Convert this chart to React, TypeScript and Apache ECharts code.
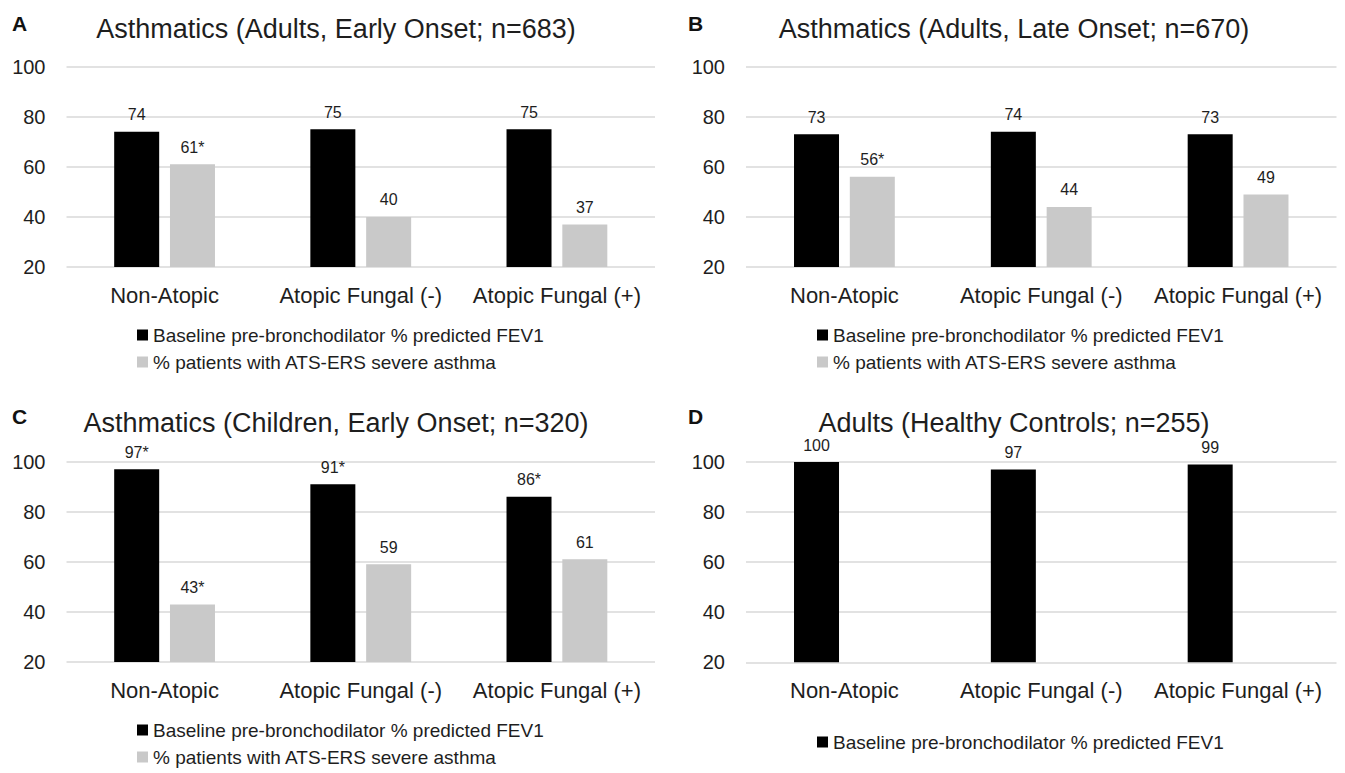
import React, { useEffect, useRef } from "react";
import * as echarts from "echarts";

const categories = ["Non-Atopic", "Atopic Fungal (-)", "Atopic Fungal (+)"];
const yTicks = { min: 20, max: 100, interval: 20 };

const FEV_NAME = "Baseline pre-bronchodilator % predicted FEV1";
const SEV_NAME = "% patients with ATS-ERS severe asthma";

// Panel A: Adults, early onset
const fevAdultEarly = [74, 75, 75];
const sevAdultEarly = [61, 40, 37];
const fevAdultEarlySig = [false, false, false];
const sevAdultEarlySig = [true, false, false];

// Panel B: Adults, late onset
const fevAdultLate = [73, 74, 73];
const sevAdultLate = [56, 44, 49];
const fevAdultLateSig = [false, false, false];
const sevAdultLateSig = [true, false, false];

// Panel C: Children, early onset
const fevChildEarly = [97, 91, 86];
const sevChildEarly = [43, 59, 61];
const fevChildEarlySig = [true, true, true];
const sevChildEarlySig = [true, false, false];

// Panel D: Healthy controls
const fevHealthy = [100, 97, 99];
const fevHealthySig = [false, false, false];

const panelTitles = [
  "Asthmatics (Adults, Early Onset; n=683)",
  "Asthmatics (Adults, Late Onset; n=670)",
  "Asthmatics (Children, Early Onset; n=320)",
  "Adults (Healthy Controls; n=255)",
];
const panelLetters = ["A", "B", "C", "D"];

const FONT = '"Liberation Sans", Arial, Helvetica, sans-serif';
const TEXT = "#1e1e1e";

const panels = [
  { left: 66.5, top: 66.7, width: 588.5, height: 200.3, fev: fevAdultEarly, sev: sevAdultEarly, fevSig: fevAdultEarlySig, sevSig: sevAdultEarlySig, titleX: 336, titleY: 29, letterX: 12, letterY: 23, legendLeft: 137, legendTop: 325 },
  { left: 746, top: 66.7, width: 590.5, height: 200.3, fev: fevAdultLate, sev: sevAdultLate, fevSig: fevAdultLateSig, sevSig: sevAdultLateSig, titleX: 1014, titleY: 29, letterX: 688, letterY: 23, legendLeft: 817, legendTop: 325 },
  { left: 66.5, top: 461.7, width: 588.5, height: 200.3, fev: fevChildEarly, sev: sevChildEarly, fevSig: fevChildEarlySig, sevSig: sevChildEarlySig, titleX: 336, titleY: 423, letterX: 12, letterY: 416, legendLeft: 137, legendTop: 720 },
  { left: 746, top: 462, width: 590.5, height: 200.3, fev: fevHealthy, sev: null as number[] | null, fevSig: fevHealthySig, sevSig: null as boolean[] | null, titleX: 1014, titleY: 423, letterX: 688, letterY: 416, legendLeft: 817, legendTop: 732 },
];

function labelFor(sig: boolean[]) {
  return {
    show: true,
    position: "top" as const,
    distance: 9,
    fontSize: 16,
    color: TEXT,
    fontFamily: FONT,
    formatter: (p: any) => `${p.value}${sig[p.dataIndex] ? "*" : ""}`,
  };
}

export default function App() {
  const ref = useRef<HTMLDivElement>(null);

  useEffect(() => {
    if (!ref.current) return;
    const chart = echarts.init(ref.current, undefined, { renderer: "svg" });

    const series: any[] = [];
    panels.forEach((p, i) => {
      series.push({
        name: FEV_NAME,
        type: "bar",
        xAxisIndex: i,
        yAxisIndex: i,
        data: p.fev,
        barWidth: 45,
        barGap: "24%",
        itemStyle: { color: "#000000" },
        label: labelFor(p.fevSig),
      });
      series.push({
        name: SEV_NAME,
        type: "bar",
        xAxisIndex: i,
        yAxisIndex: i,
        data: p.sev ? p.sev : [],
        barWidth: 45,
        barGap: "24%",
        itemStyle: { color: "#c9c9c9" },
        label: p.sevSig ? labelFor(p.sevSig) : { show: false },
      });
    });

    const option: any = {
      animation: false,
      backgroundColor: "#ffffff",
      textStyle: { fontFamily: FONT },
      grid: panels.map((p) => ({ left: p.left, top: p.top, width: p.width, height: p.height })),
      xAxis: panels.map((_, i) => ({
        type: "category",
        gridIndex: i,
        data: categories,
        axisLine: { show: false },
        axisTick: { show: false },
        axisLabel: { interval: 0, fontSize: 22, color: TEXT, margin: 17, fontFamily: FONT },
      })),
      yAxis: panels.map((_, i) => ({
        type: "value",
        gridIndex: i,
        min: yTicks.min,
        max: yTicks.max,
        interval: yTicks.interval,
        axisLine: { show: false },
        axisTick: { show: false },
        splitLine: { lineStyle: { color: "#d9d9d9", width: 1.5 } },
        axisLabel: { fontSize: 20, color: TEXT, margin: 21, fontFamily: FONT },
      })),
      legend: panels.map((p) => ({
        data: p.sev ? [FEV_NAME, SEV_NAME] : [FEV_NAME],
        orient: "vertical",
        left: p.legendLeft,
        top: p.legendTop,
        height: 60,
        padding: 0,
        icon: "rect",
        itemWidth: 11,
        itemHeight: 11,
        itemGap: 7,
        selectedMode: false,
        textStyle: { fontSize: 19, color: TEXT, fontFamily: FONT, lineHeight: 20 },
      })),
      graphic: [
        ...panels.map((p, i) => ({
          type: "text",
          x: p.titleX,
          y: p.titleY,
          style: {
            text: panelTitles[i],
            fontSize: 27,
            fontFamily: FONT,
            fill: TEXT,
            textAlign: "center",
            textVerticalAlign: "middle",
          },
        })),
        ...panels.map((p, i) => ({
          type: "text",
          x: p.letterX,
          y: p.letterY,
          style: {
            text: panelLetters[i],
            fontSize: 21,
            fontWeight: "bold",
            fontFamily: FONT,
            fill: "#111111",
            textAlign: "left",
            textVerticalAlign: "middle",
          },
        })),
      ],
      series,
    };

    chart.setOption(option);
    return () => chart.dispose();
  }, []);

  return (
    <div
      ref={ref}
      style={{ position: "fixed", left: 0, top: 0, width: 1345, height: 773, background: "#fff" }}
    />
  );
}
